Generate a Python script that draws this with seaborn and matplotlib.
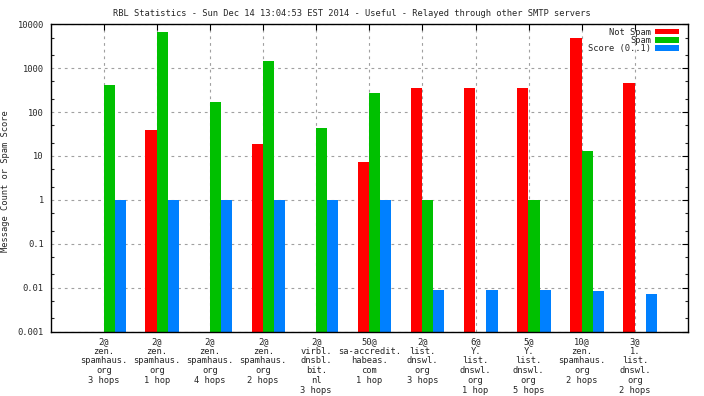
import pandas as pd
import numpy as np
import matplotlib
matplotlib.use("Agg")
import matplotlib.pyplot as plt
import seaborn as sns
from matplotlib.ticker import FixedLocator, FixedFormatter, NullFormatter

# tick labels (one per list / hop combination)
labels = ["2@\nzen.\nspamhaus.\norg\n3 hops",
          "2@\nzen.\nspamhaus.\norg\n1 hop",
          "2@\nzen.\nspamhaus.\norg\n4 hops",
          "2@\nzen.\nspamhaus.\norg\n2 hops",
          "2@\nvirbl.\ndnsbl.\nbit.\nnl\n3 hops",
          "50@\nsa-accredit.\nhabeas.\ncom\n1 hop",
          "2@\nlist.\ndnswl.\norg\n3 hops",
          "6@\nY.\nlist.\ndnswl.\norg\n1 hop",
          "5@\nY.\nlist.\ndnswl.\norg\n5 hops",
          "10@\nzen.\nspamhaus.\norg\n2 hops",
          "3@\n1.\nlist.\ndnswl.\norg\n2 hops"]

not_spam = [0, 39, 0, 18.7, 0, 7.3, 352, 352, 352, 4850, 457]
spam = [412, 6640, 169, 1452, 43, 271, 1, 0, 1, 12.9, 0]
score = [1.0, 1.0, 1.0, 0.97, 0.97, 0.97, 0.0088, 0.0088, 0.0088, 0.0085, 0.0071]

series = ["Not Spam", "Spam", "Score (0..1)"]
colors = ["#ff0000", "#00c000", "#0080ff"]

cats = [str(i) for i in range(len(labels))]
df = pd.DataFrame({
    "cat": cats * 3,
    "series": [series[0]] * 11 + [series[1]] * 11 + [series[2]] * 11,
    "value": not_spam + spam + score,
})

fs = 6.3
sns.set_style("white")
plt.rcParams["font.family"] = ["DejaVu Sans Mono"]
plt.rcParams["font.size"] = fs

fig = plt.figure(figsize=(7.04, 3.96), dpi=100)
ax = fig.add_axes([50.7 / 704, 1 - 331.5 / 396, (688 - 50.7) / 704, (331.5 - 24.3) / 396])

sns.barplot(data=df, x="cat", y="value", hue="series", hue_order=series,
            palette=colors, order=cats, width=0.63, errorbar=None,
            saturation=1, ax=ax, linewidth=0)

ax.set_yscale("log")
ax.set_ylim(0.001, 10000)
ax.set_xlim(-1.1, 10.9)

# ticks sit just left of the group centre like gnuplot's clustered histogram
ax.xaxis.set_major_locator(FixedLocator([i - 0.1 for i in range(11)]))
ax.xaxis.set_major_formatter(FixedFormatter(labels))
yt = [0.001, 0.01, 0.1, 1, 10, 100, 1000, 10000]
ax.yaxis.set_major_locator(FixedLocator(yt))
ax.yaxis.set_major_formatter(FixedFormatter(["0.001", "0.01", "0.1", "1", "10", "100", "1000", "10000"]))
minors = [m * 10.0 ** e for e in range(-3, 4) for m in (2, 5)]
ax.yaxis.set_minor_locator(FixedLocator(minors))
ax.yaxis.set_minor_formatter(NullFormatter())

ax.tick_params(axis="both", which="major", direction="in", length=4, width=0.8,
               top=True, right=True, labelsize=fs, color="black")
ax.tick_params(axis="y", which="minor", direction="in", length=2.5, width=0.8,
               left=True, right=True)
ax.tick_params(axis="x", pad=4)
ax.tick_params(axis="y", pad=5)
for lab in ax.get_xticklabels():
    lab.set_linespacing(1.1)

ax.grid(True, which="major", axis="both", linestyle=(0, (2.5, 3.5)), color="#a0a0a0", linewidth=0.8)
ax.set_axisbelow(True)
for s in ax.spines.values():
    s.set_color("black")
    s.set_linewidth(1)

ax.set_xlabel("")
ax.set_ylabel("Message Count or Spam Score", fontsize=fs)
ax.yaxis.set_label_coords(-0.064, 0.49)
fig.suptitle("RBL Statistics - Sun Dec 14 13:04:53 EST 2014 - Useful - Relayed through other SMTP servers",
             fontsize=fs, y=0.978)

leg = ax.legend(loc="upper right", bbox_to_anchor=(1 - 7.5 / 637.3, 1 - 1.75 / 307.2),
                frameon=False, markerfirst=False, fontsize=fs,
                handlelength=2.75, handleheight=0.6, labelspacing=-0.1,
                borderaxespad=0, handletextpad=0.4, borderpad=0.2)

fig.savefig("out.png", dpi=100)
